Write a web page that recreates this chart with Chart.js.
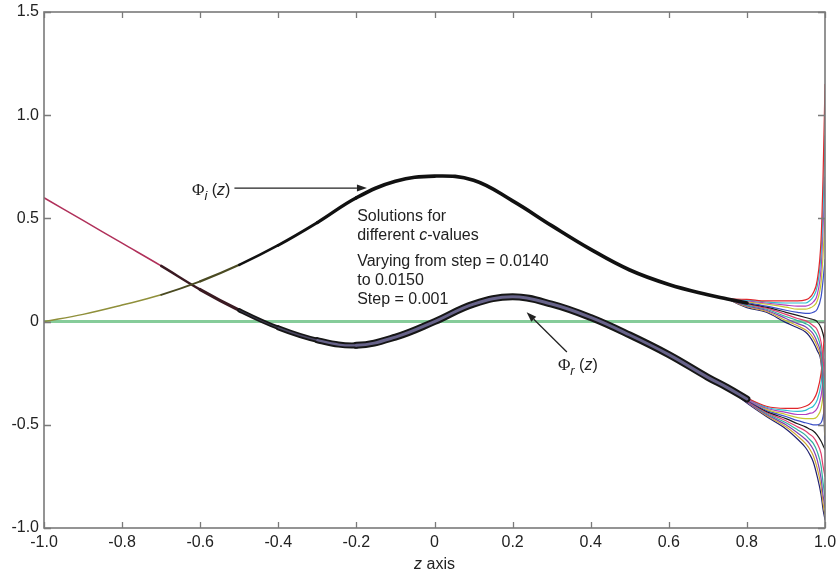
<!DOCTYPE html>
<html>
<head>
<meta charset="utf-8">
<script src="https://cdn.jsdelivr.net/npm/chart.js@4.4.1/dist/chart.umd.min.js"></script>
<style>
  html, body { margin: 0; padding: 0; background: #fff; }
  #wrap { width: 836px; height: 572px; }
</style>
</head>
<body>
<div id="wrap"><canvas id="phiChart" width="836" height="572"></canvas></div>
<script>
// axis ticks
const xTickValues = [-1, -0.8, -0.6, -0.4, -0.2, 0, 0.2, 0.4, 0.6, 0.8, 1];
const xTickLabels = ['-1.0', '-0.8', '-0.6', '-0.4', '-0.2', '0', '0.2', '0.4', '0.6', '0.8', '1.0'];
const yTickValues = [-1, -0.5, 0, 0.5, 1, 1.5];
const yTickLabels = ['-1.0', '-0.5', '0', '0.5', '1.0', '1.5'];

// common part of all solutions (curves lie on top of each other here)
const zBody = [-1, -0.9, -0.8, -0.7, -0.6, -0.5, -0.4, -0.3, -0.2, -0.1, 0, 0.1, 0.2, 0.3, 0.4, 0.5, 0.6, 0.7, 0.75, 0.8];
const phiIBody = [0, 0.035, 0.08, 0.13, 0.195, 0.275, 0.37, 0.48, 0.60, 0.68, 0.705, 0.685, 0.585, 0.465, 0.35, 0.25, 0.18, 0.13, 0.11, 0.09];
const phiRBody = [0.60, 0.49, 0.38, 0.27, 0.155, 0.055, -0.03, -0.09, -0.115, -0.075, 0.0, 0.085, 0.12, 0.085, 0.02, -0.065, -0.16, -0.27, -0.32, -0.375];

// zero solution
const zZero = [-1, 1];
const zeroLine = [0, 0];

// near z = 1 the 11 solutions (c = 0.0140 ... 0.0150) fan out
const zTail = [0.75, 0.8, 0.85, 0.9, 0.93, 0.95, 0.96, 0.97, 0.98, 0.99, 0.995, 1.0];
const phiITails = [
  [0.11, 0.108, 0.10, 0.10, 0.10, 0.105, 0.115, 0.14, 0.20, 0.40, 0.70, 1.15],
  [0.11, 0.104, 0.095, 0.09, 0.09, 0.09, 0.10, 0.12, 0.17, 0.33, 0.55, 0.90],
  [0.11, 0.10, 0.09, 0.08, 0.075, 0.075, 0.08, 0.095, 0.13, 0.26, 0.45, 0.70],
  [0.11, 0.096, 0.085, 0.07, 0.06, 0.06, 0.065, 0.075, 0.10, 0.19, 0.32, 0.50],
  [0.11, 0.092, 0.075, 0.055, 0.045, 0.04, 0.04, 0.045, 0.06, 0.12, 0.20, 0.30],
  [0.11, 0.088, 0.07, 0.045, 0.03, 0.02, 0.015, 0.01, 0.0, -0.03, -0.06, -0.10],
  [0.11, 0.084, 0.065, 0.035, 0.015, 0.005, -0.005, -0.02, -0.04, -0.10, -0.18, -0.30],
  [0.11, 0.08, 0.06, 0.025, 0.005, -0.01, -0.02, -0.04, -0.07, -0.14, -0.25, -0.40],
  [0.11, 0.076, 0.055, 0.015, -0.01, -0.025, -0.04, -0.06, -0.10, -0.17, -0.30, -0.50],
  [0.11, 0.072, 0.05, 0.005, -0.02, -0.04, -0.055, -0.08, -0.12, -0.19, -0.32, -0.55],
  [0.11, 0.068, 0.045, -0.005, -0.03, -0.05, -0.07, -0.10, -0.14, -0.20, -0.33, -0.60]
];
const phiRTails = [
  [-0.32, -0.37, -0.41, -0.42, -0.42, -0.41, -0.40, -0.38, -0.34, -0.25, -0.15, -0.02],
  [-0.32, -0.37, -0.415, -0.43, -0.435, -0.43, -0.42, -0.41, -0.38, -0.30, -0.20, -0.10],
  [-0.32, -0.375, -0.42, -0.44, -0.45, -0.45, -0.445, -0.44, -0.42, -0.36, -0.28, -0.18],
  [-0.32, -0.375, -0.425, -0.45, -0.465, -0.47, -0.47, -0.47, -0.46, -0.42, -0.36, -0.28],
  [-0.32, -0.38, -0.43, -0.46, -0.48, -0.49, -0.495, -0.50, -0.50, -0.49, -0.46, -0.40],
  [-0.32, -0.38, -0.435, -0.47, -0.495, -0.51, -0.52, -0.53, -0.55, -0.58, -0.60, -0.62],
  [-0.32, -0.385, -0.44, -0.48, -0.51, -0.53, -0.545, -0.56, -0.59, -0.64, -0.70, -0.75],
  [-0.32, -0.385, -0.445, -0.49, -0.525, -0.55, -0.57, -0.59, -0.63, -0.70, -0.78, -0.85],
  [-0.32, -0.39, -0.45, -0.50, -0.54, -0.57, -0.59, -0.62, -0.67, -0.76, -0.84, -0.90],
  [-0.32, -0.39, -0.455, -0.51, -0.555, -0.59, -0.615, -0.65, -0.71, -0.80, -0.88, -0.94],
  [-0.32, -0.395, -0.46, -0.52, -0.57, -0.61, -0.64, -0.68, -0.75, -0.84, -0.91, -0.96]
];

const curveColors = ['#e0262b', '#2fc0d0', '#b040c0', '#c8c832', '#3c50c8', '#1a1a1a',
                     '#e04070', '#30b0a0', '#8040b0', '#d0a830', '#202070'];

const SANS = '"Liberation Sans", Arial, sans-serif';
const SERIF = '"Liberation Serif", "Times New Roman", serif';

function pts(xs, ys) {
    return xs.map((x, i) => ({ x: x, y: ys[i] }));
}

// datasets
const datasets = [];

datasets.push({
    label: 'zero',
    data: pts(zZero, zeroLine),
    borderColor: '#86cc9a',
    borderWidth: 3,
    order: 5
});

phiITails.forEach((tail, k) => {
    datasets.push({
        label: 'phi_i ' + k,
        data: pts(zTail, tail),
        borderColor: curveColors[k],
        borderWidth: 1.2,
        cubicInterpolationMode: 'monotone',
        order: 3
    });
});
phiRTails.forEach((tail, k) => {
    datasets.push({
        label: 'phi_r ' + k,
        data: pts(zTail, tail),
        borderColor: curveColors[k],
        borderWidth: 1.2,
        cubicInterpolationMode: 'monotone',
        order: 3
    });
});

// line width of a bundle: thin at z = -1, wider to the right
function bandWidth(x, w0, w1) {
    const t = Math.min(1, Math.max(0, (x + 0.8) / 0.6));
    return w0 + (w1 - w0) * t;
}

datasets.push({
    label: 'phi_i band',
    data: pts(zBody, phiIBody),
    borderColor: '#111',
    tension: 0.4,
    segment: {
        borderColor: c => c.p0.parsed.x < -0.7 ? '#8f8f3a' : (c.p0.parsed.x < -0.5 ? '#4a4a22' : '#111'),
        borderWidth: c => bandWidth(c.p0.parsed.x, 1.5, 3.6)
    },
    order: 1
});
datasets.push({
    label: 'phi_r band outer',
    data: pts(zBody, phiRBody),
    borderColor: '#111',
    tension: 0.4,
    segment: {
        borderColor: c => c.p0.parsed.x < -0.7 ? '#b0305a' : (c.p0.parsed.x < -0.5 ? '#3a1a22' : '#161616'),
        borderWidth: c => bandWidth(c.p0.parsed.x, 1.5, 7)
    },
    order: 2
});
datasets.push({
    label: 'phi_r band inner',
    data: pts(zBody, phiRBody),
    borderColor: '#625e84',
    tension: 0.4,
    segment: {
        borderColor: c => c.p0.parsed.x < -0.5 ? 'rgba(0,0,0,0)' : (c.p0.parsed.x < -0.3 ? '#4a4660' : '#67638a'),
        borderWidth: c => c.p0.parsed.x < -0.5 ? 0 : bandWidth(c.p0.parsed.x, -1.5, 3)
    },
    order: 1
});

function drawArrow(ctx, x1, y1, x2, y2) {
    const a = Math.atan2(y2 - y1, x2 - x1);
    const hl = 10, hw = 3.5;
    ctx.save();
    ctx.strokeStyle = '#222';
    ctx.fillStyle = '#222';
    ctx.lineWidth = 1.3;
    ctx.beginPath();
    ctx.moveTo(x1, y1);
    ctx.lineTo(x2 - hl * Math.cos(a), y2 - hl * Math.sin(a));
    ctx.stroke();
    ctx.beginPath();
    ctx.moveTo(x2, y2);
    ctx.lineTo(x2 - hl * Math.cos(a) - hw * Math.sin(a), y2 - hl * Math.sin(a) + hw * Math.cos(a));
    ctx.lineTo(x2 - hl * Math.cos(a) + hw * Math.sin(a), y2 - hl * Math.sin(a) - hw * Math.cos(a));
    ctx.closePath();
    ctx.fill();
    ctx.restore();
}

// draws pieces of text one after another: [text, font, dy]
function drawRuns(ctx, x, y, runs) {
    let cx = x;
    runs.forEach(r => {
        ctx.font = r[1];
        ctx.fillText(r[0], cx, y + (r[2] || 0));
        cx += ctx.measureText(r[0]).width;
    });
    return cx;
}

const annotations = {
    id: 'annotations',
    afterDatasetsDraw(chart) {
        const ctx = chart.ctx;
        const xs = chart.scales.x, ys = chart.scales.y;
        ctx.save();
        ctx.fillStyle = '#222';
        ctx.textAlign = 'left';
        ctx.textBaseline = 'alphabetic';

        // Phi_i label and arrow
        let px = xs.getPixelForValue(-0.621), py = ys.getPixelForValue(0.613);
        let end = drawRuns(ctx, px, py, [
            ['\u03A6', '17px ' + SERIF, 0],
            ['i', 'italic 13px ' + SANS, 5],
            [' (', '16px ' + SANS, 0],
            ['z', 'italic 16px ' + SANS, 0],
            [')', '16px ' + SANS, 0]
        ]);
        drawArrow(ctx, end + 4, py - 7, xs.getPixelForValue(-0.173), py - 7);

        // Phi_r label and arrow
        px = xs.getPixelForValue(0.316); py = ys.getPixelForValue(-0.234);
        ctx.fillStyle = '#222';
        drawRuns(ctx, px, py, [
            ['\u03A6', '17px ' + SERIF, 0],
            ['r', 'italic 13px ' + SANS, 5],
            [' (', '16px ' + SANS, 0],
            ['z', 'italic 16px ' + SANS, 0],
            [')', '16px ' + SANS, 0]
        ]);
        drawArrow(ctx, xs.getPixelForValue(0.339), ys.getPixelForValue(-0.147),
                  xs.getPixelForValue(0.236), ys.getPixelForValue(0.045));

        // text block
        px = xs.getPixelForValue(-0.198); py = ys.getPixelForValue(0.487);
        ctx.fillStyle = '#222';
        const f = '16px ' + SANS;
        drawRuns(ctx, px, py, [['Solutions for', f]]);
        drawRuns(ctx, px, py + 19, [['different ', f], ['c', 'italic 16px ' + SANS], ['-values', f]]);
        drawRuns(ctx, px, py + 45, [['Varying from step = 0.0140', f]]);
        drawRuns(ctx, px, py + 64, [['to 0.0150', f]]);
        drawRuns(ctx, px, py + 83, [['Step = 0.001', f]]);
        ctx.restore();
    },
    afterDraw(chart) {
        const ctx = chart.ctx;
        const a = chart.chartArea;
        const xs = chart.scales.x, ys = chart.scales.y;
        ctx.save();
        ctx.strokeStyle = '#7a7a7a';
        ctx.lineWidth = 1.6;
        ctx.strokeRect(a.left, a.top, a.right - a.left, a.bottom - a.top);
        ctx.lineWidth = 1.3;
        ctx.beginPath();
        xTickValues.forEach(v => {
            const p = Math.round(xs.getPixelForValue(v)) + 0.5;
            ctx.moveTo(p, a.bottom); ctx.lineTo(p, a.bottom - 6);
            ctx.moveTo(p, a.top); ctx.lineTo(p, a.top + 6);
        });
        yTickValues.forEach(v => {
            const p = Math.round(ys.getPixelForValue(v)) + 0.5;
            ctx.moveTo(a.left, p); ctx.lineTo(a.left + 7, p);
            ctx.moveTo(a.right, p); ctx.lineTo(a.right - 7, p);
        });
        ctx.stroke();

        // x axis title
        ctx.fillStyle = '#222';
        ctx.textBaseline = 'alphabetic';
        ctx.font = 'italic 16px ' + SANS;
        const w1 = ctx.measureText('z').width;
        ctx.font = '16px ' + SANS;
        const w2 = ctx.measureText(' axis').width;
        const cx = (a.left + a.right) / 2 - (w1 + w2) / 2;
        drawRuns(ctx, cx, 569, [['z', 'italic 16px ' + SANS], [' axis', '16px ' + SANS]]);
        ctx.restore();
    }
};

const ctx = document.getElementById('phiChart').getContext('2d');
new Chart(ctx, {
    type: 'line',
    data: { datasets: datasets },
    options: {
        responsive: false,
        animation: false,
        devicePixelRatio: 1,
        layout: { padding: { top: 12, right: 11, left: 0, bottom: 0 } },
        elements: {
            point: { radius: 0 },
            line: { borderCapStyle: 'round', borderJoinStyle: 'round' }
        },
        plugins: { legend: { display: false }, tooltip: { enabled: false } },
        scales: {
            x: {
                type: 'linear',
                min: -1,
                max: 1,
                afterBuildTicks: s => { s.ticks = xTickValues.map(v => ({ value: v })); },
                afterFit: s => { s.height = 44; s.paddingLeft = 0; s.paddingRight = 0; },
                grid: { display: false, drawTicks: false },
                border: { display: false },
                ticks: {
                    padding: 5,
                    color: '#222',
                    font: { family: SANS, size: 16 },
                    maxRotation: 0,
                    autoSkip: false,
                    callback: v => xTickLabels[xTickValues.findIndex(t => Math.abs(t - v) < 1e-9)]
                }
            },
            y: {
                type: 'linear',
                min: -1,
                max: 1.5,
                afterBuildTicks: s => { s.ticks = yTickValues.map(v => ({ value: v })); },
                afterFit: s => { s.width = 44; s.paddingTop = 0; s.paddingBottom = 0; },
                grid: { display: false, drawTicks: false },
                border: { display: false },
                ticks: {
                    padding: 5,
                    color: '#222',
                    font: { family: SANS, size: 16 },
                    autoSkip: false,
                    callback: v => yTickLabels[yTickValues.findIndex(t => Math.abs(t - v) < 1e-9)]
                }
            }
        }
    },
    plugins: [annotations]
});
</script>
</body>
</html>
